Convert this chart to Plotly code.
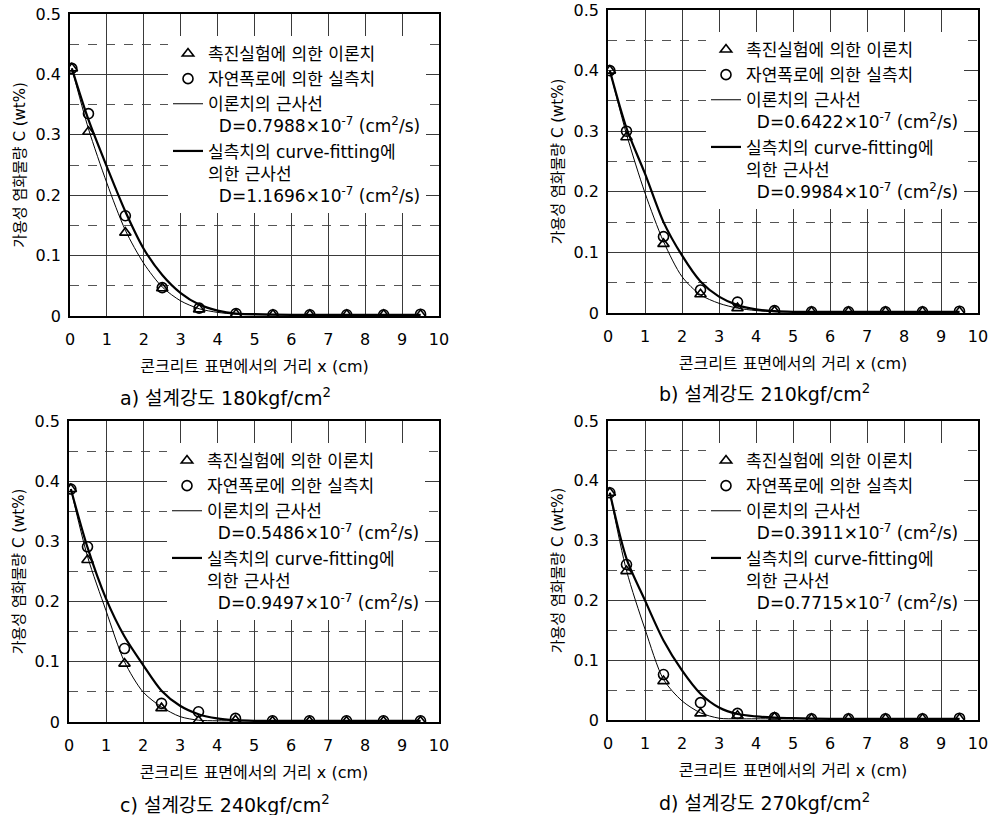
import plotly.graph_objects as go

W, H = 988, 815
FONT = "DejaVu Sans, Noto Sans CJK KR, sans-serif"

# ---------------- data ----------------
x_pts = [0.05, 0.5, 1.5, 2.5, 3.5, 4.5, 5.5, 6.5, 7.5, 8.5, 9.5]
x_curve = [0.05, 0.5, 1.0, 1.5, 2.0, 2.5, 3.0, 3.5, 4.0, 4.5, 5.0, 6.0, 7.0, 8.0, 9.0, 9.5]

# a) 180 kgf/cm2
a_theory_pts = [0.41, 0.305, 0.138, 0.046, 0.011, 0.003, 0.002, 0.002, 0.002, 0.002, 0.002]
a_measured_pts = [0.41, 0.335, 0.166, 0.047, 0.013, 0.004, 0.002, 0.002, 0.002, 0.002, 0.003]
a_theory_curve = [0.41, 0.31, 0.22, 0.142, 0.087, 0.048, 0.025, 0.012, 0.006, 0.003, 0.002, 0.002, 0.002, 0.002, 0.002, 0.002]
a_fit_curve = [0.41, 0.325, 0.247, 0.173, 0.111, 0.068, 0.038, 0.019, 0.009, 0.004, 0.003, 0.002, 0.002, 0.002, 0.002, 0.002]

# b) 210 kgf/cm2
b_theory_pts = [0.40, 0.29, 0.114, 0.031, 0.008, 0.003, 0.002, 0.002, 0.002, 0.002, 0.002]
b_measured_pts = [0.40, 0.30, 0.126, 0.038, 0.018, 0.004, 0.002, 0.002, 0.002, 0.002, 0.003]
b_theory_curve = [0.40, 0.295, 0.198, 0.118, 0.060, 0.030, 0.016, 0.008, 0.004, 0.002, 0.002, 0.002, 0.002, 0.002, 0.002, 0.002]
b_fit_curve = [0.40, 0.305, 0.230, 0.150, 0.095, 0.052, 0.027, 0.013, 0.006, 0.003, 0.002, 0.002, 0.002, 0.002, 0.002, 0.002]

# c) 240 kgf/cm2
c_theory_pts = [0.387, 0.269, 0.097, 0.023, 0.002, 0.003, 0.001, 0.001, 0.001, 0.001, 0.001]
c_measured_pts = [0.387, 0.291, 0.122, 0.031, 0.017, 0.006, 0.002, 0.002, 0.002, 0.002, 0.002]
c_theory_curve = [0.387, 0.275, 0.185, 0.100, 0.050, 0.025, 0.009, 0.003, 0.002, 0.002, 0.002, 0.002, 0.002, 0.002, 0.002, 0.002]
c_fit_curve = [0.387, 0.290, 0.205, 0.142, 0.095, 0.052, 0.027, 0.013, 0.006, 0.003, 0.002, 0.002, 0.002, 0.002, 0.002, 0.002]

# d) 270 kgf/cm2
d_theory_pts = [0.38, 0.249, 0.065, 0.011, 0.007, 0.004, 0.002, 0.002, 0.002, 0.002, 0.002]
d_measured_pts = [0.38, 0.26, 0.076, 0.029, 0.011, 0.004, 0.002, 0.002, 0.002, 0.002, 0.003]
d_theory_curve = [0.38, 0.25, 0.152, 0.068, 0.032, 0.012, 0.003, 0.002, 0.002, 0.002, 0.002, 0.002, 0.002, 0.002, 0.002, 0.002]
d_fit_curve = [0.38, 0.27, 0.200, 0.133, 0.083, 0.044, 0.021, 0.010, 0.006, 0.004, 0.003, 0.002, 0.002, 0.002, 0.002, 0.002]

captions = ["a) 설계강도 180kgf/cm<sup>2</sup>", "b) 설계강도 210kgf/cm<sup>2</sup>",
            "c) 설계강도 240kgf/cm<sup>2</sup>", "d) 설계강도 270kgf/cm<sup>2</sup>"]
D_theory = ["0.7988", "0.6422", "0.5486", "0.3911"]
D_fit = ["1.1696", "0.9984", "0.9497", "0.7715"]

lbl_tri = "촉진실험에 의한 이론치"
lbl_circ = "자연폭로에 의한 실측치"
lbl_thin = "이론치의 근사선<br>\u00a0\u00a0D={}×10<sup>-7</sup> (cm<sup>2</sup>/s)"
lbl_thick = "실측치의 curve-fitting에<br>의한 근사선<br>\u00a0\u00a0D={}×10<sup>-7</sup> (cm<sup>2</sup>/s)"

x_title = "콘크리트 표면에서의 거리 x (cm)"
y_title = "가용성 염화물량 C (wt%)"

panels = [
    (a_theory_pts, a_measured_pts, a_theory_curve, a_fit_curve),
    (b_theory_pts, b_measured_pts, b_theory_curve, b_fit_curve),
    (c_theory_pts, c_measured_pts, c_theory_curve, c_fit_curve),
    (d_theory_pts, d_measured_pts, d_theory_curve, d_fit_curve),
]

# plot-area boxes in pixels: left, right, top, bottom
boxes = [(70, 439, 14, 316), (608, 978, 10, 313), (69, 439, 421, 722), (608, 978, 421, 720)]
caption_pos = [(118, 397), (657, 393), (118, 804), (657, 802)]

fig = go.Figure()
layout = dict(width=W, height=H, margin=dict(l=0, r=0, t=0, b=0, autoexpand=False),
              paper_bgcolor="white", plot_bgcolor="white",
              font=dict(family=FONT, size=15, color="black"), annotations=[])

for i, (tp, mp, tc, fc) in enumerate(panels):
    n = "" if i == 0 else str(i + 1)
    xa, ya = "x" + n, "y" + n
    lg = "legend" + n
    L, R, T, B = boxes[i]
    common = dict(xaxis=xa, yaxis=ya, legend=lg)
    fig.add_trace(go.Scatter(x=x_curve, y=tc, mode="lines", name=lbl_thin.format(D_theory[i]),
                             line=dict(color="black", width=1, shape="spline", smoothing=0.8),
                             legendgroup="thin" + n, legendrank=3, **common))
    fig.add_trace(go.Scatter(x=x_curve, y=fc, mode="lines", name=lbl_thick.format(D_fit[i]),
                             line=dict(color="black", width=2.2, shape="spline", smoothing=0.8),
                             legendgroup="thick" + n, legendrank=4, **common))
    fig.add_trace(go.Scatter(x=x_pts, y=tp, mode="markers", name=lbl_tri,
                             marker=dict(symbol="triangle-up-open", size=10, color="black",
                                         line=dict(width=1.6, color="black")),
                             legendgroup="tri" + n, legendrank=1, **common))
    fig.add_trace(go.Scatter(x=x_pts, y=mp, mode="markers", name=lbl_circ,
                             marker=dict(symbol="circle-open", size=10, color="black",
                                         line=dict(width=1.6, color="black")),
                             legendgroup="circ" + n, legendrank=2, **common))

    layout["xaxis" + n] = dict(domain=[L / W, R / W], range=[0, 10], anchor=ya,
                               dtick=1, tick0=0, showgrid=True, gridcolor="#3a3a3a", gridwidth=1,
                               zeroline=False, showline=True, linecolor="black", linewidth=1.5,
                               mirror=True, ticks="", ticklabelstandoff=8,
                               ticklabeloverflow="allow",
                               tickfont=dict(size=16),
                               title=dict(text=x_title, font=dict(size=16), standoff=13))
    layout["yaxis" + n] = dict(domain=[1 - B / H, 1 - T / H], range=[0, 0.5], anchor=xa,
                               dtick=0.1, tick0=0, tickformat=".1~f",
                               showgrid=True, gridcolor="#3a3a3a", gridwidth=1,
                               minor=dict(dtick=0.05, showgrid=True, gridcolor="#555555",
                                          griddash="dash", gridwidth=1),
                               zeroline=False, showline=True, linecolor="black", linewidth=1.5,
                               mirror=True, ticks="", ticklabelstandoff=4,
                               ticklabeloverflow="allow",
                               tickfont=dict(size=16),
                               title=dict(text=y_title, font=dict(size=15), standoff=6))
    layout[lg] = dict(x=(L + 98) / W, y=1 - (T + 22) / H, xanchor="left", yanchor="top",
                      bgcolor="white", borderwidth=0, font=dict(size=17, family=FONT),
                      tracegroupgap=5, valign="top", itemwidth=30, traceorder="normal")
    cx, cy = caption_pos[i]
    layout["annotations"].append(dict(text=captions[i], xref="paper", yref="paper",
                                      x=cx / W, y=1 - cy / H, xanchor="left", yanchor="middle",
                                      showarrow=False, font=dict(size=19, family=FONT)))

fig.update_layout(**layout)
fig.write_html("out.html", config={"displayModeBar": False},
               post_script="document.body.style.margin='0';")
